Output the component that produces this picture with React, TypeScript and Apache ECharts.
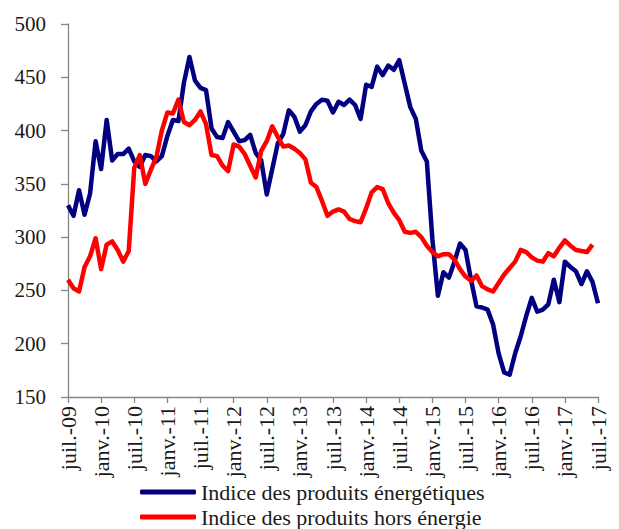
import React, { useEffect, useRef } from "react";
import * as echarts from "echarts";

const monthNames = ["janv.", "févr.", "mars", "avr.", "mai", "juin", "juil.", "août", "sept.", "oct.", "nov.", "déc."];
const startYear = 2009;
const startMonth = 6; // juillet
const monthCount = 97;

const energie = [
  330, 320, 344, 321, 341, 390, 364, 410, 372, 378, 378, 383,
  371, 366, 377, 376, 371, 376, 395, 410, 409, 445, 469, 447,
  440, 438, 402, 394, 393, 408, 399, 390, 391, 396, 379, 372,
  340, 364, 388, 397, 419, 413, 399, 405, 418, 425, 429, 428,
  417, 427, 424, 429, 424, 411, 443, 441, 460, 452, 461, 457,
  466, 444, 422, 411, 381, 371, 298, 245, 267, 262, 277, 294,
  288, 260, 235, 234, 232, 218, 191, 173, 171, 191, 207, 226,
  243, 230, 232, 237, 260, 239, 277, 272, 268, 256, 268, 258,
  238,
];

const horsEnergie = [
  260, 252, 249, 272, 282, 299, 270, 293, 296, 288, 277, 287,
  365, 377, 350, 363, 375, 400, 417, 416, 429, 408, 405, 410,
  418, 406, 377, 376, 367, 362, 387, 385, 378, 367, 356, 381,
  390, 404, 394, 385, 386, 383, 379, 373, 351, 347, 334, 320,
  324, 326, 324, 317, 315, 314, 327, 342, 347, 345, 332, 323,
  316, 305, 304, 305, 300, 292, 286, 282, 284, 284, 279, 270,
  263, 259, 264, 254, 251, 249, 257, 265, 271, 277, 288, 286,
  281, 278, 277, 285, 282, 290, 297, 292, 288, 287, 286, 293,
  null,
];

const seriesNames = ["Indice des produits énergétiques", "Indice des produits hors énergie"];
const seriesColors = ["#000080", "#ff0000"];
const yTicks = { min: 150, max: 500, interval: 50 };

const categories: string[] = [];
for (let i = 0; i < monthCount; i++) {
  const m = (startMonth + i) % 12;
  const y = startYear + Math.floor((startMonth + i) / 12);
  categories.push(`${monthNames[m]}-${String(y % 100).padStart(2, "0")}`);
}

const FONT = "Liberation Serif";
const TEXT = "#1a1a1a";

export default function App() {
  const ref = useRef<HTMLDivElement>(null);
  useEffect(() => {
    if (!ref.current) return;
    const chart = echarts.init(ref.current, null, { renderer: "svg" });
    const legendBase = {
      orient: "horizontal",
      left: 135,
      padding: [2, 5, 2, 5],
      icon: "roundRect",
      itemWidth: 56,
      itemHeight: 5,
      textStyle: { fontFamily: FONT, fontSize: 22, color: TEXT },
    };
    chart.setOption({
      animation: false,
      backgroundColor: "#ffffff",
      grid: { left: 68, right: 21, top: 24, bottom: 132, containLabel: false },
      xAxis: {
        type: "category",
        data: categories,
        boundaryGap: false,
        axisLine: { lineStyle: { color: "#868686", width: 1.3 } },
        axisTick: { interval: 5, length: 6, lineStyle: { color: "#868686", width: 1.3 } },
        axisLabel: {
          interval: 5,
          rotate: 90,
          margin: 9,
          fontFamily: FONT,
          fontSize: 22,
          color: TEXT,
        },
        splitLine: { show: false },
      },
      yAxis: {
        type: "value",
        min: yTicks.min,
        max: yTicks.max,
        interval: yTicks.interval,
        axisLine: { show: true, lineStyle: { color: "#868686", width: 1.3 } },
        axisTick: { show: true, length: 7, lineStyle: { color: "#868686", width: 1.3 } },
        axisLabel: {
          margin: 22,
          fontFamily: FONT,
          fontSize: 21,
          color: TEXT,
        },
        splitLine: { show: false },
      },
      legend: [
        { ...legendBase, top: 479, data: [seriesNames[0]] },
        { ...legendBase, top: 504, data: [seriesNames[1]] },
      ],
      series: [
        {
          name: seriesNames[0],
          type: "line",
          data: energie,
          showSymbol: false,
          symbol: "none",
          lineStyle: { color: seriesColors[0], width: 4.5, join: "round" },
          itemStyle: { color: seriesColors[0] },
        },
        {
          name: seriesNames[1],
          type: "line",
          data: horsEnergie,
          showSymbol: false,
          symbol: "none",
          lineStyle: { color: seriesColors[1], width: 4.5, join: "round" },
          itemStyle: { color: seriesColors[1] },
        },
      ],
    });
    return () => chart.dispose();
  }, []);
  return (
    <div
      ref={ref}
      style={{ position: "absolute", left: 0, top: 0, width: 619, height: 529 }}
    />
  );
}
